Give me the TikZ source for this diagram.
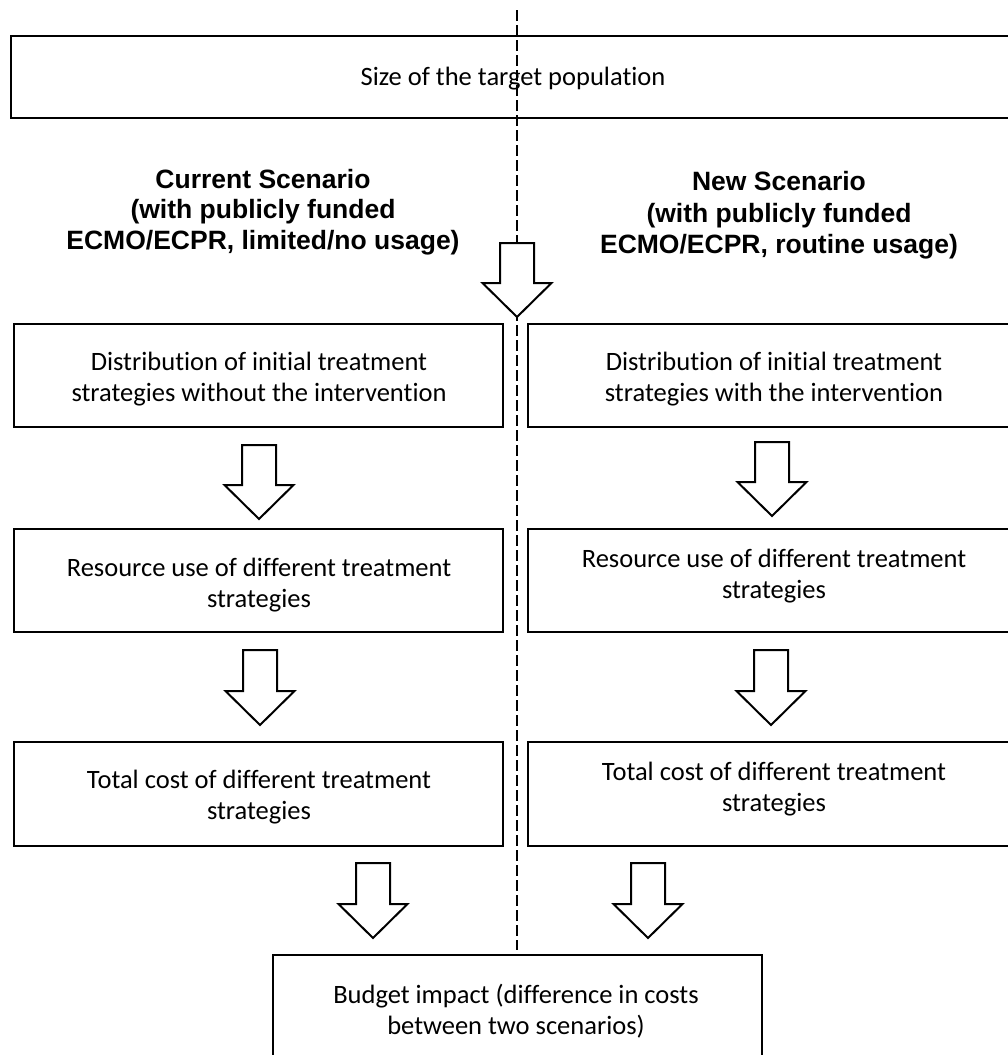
\documentclass[tikz,border=0pt]{standalone}
\usepackage{fontspec}
\setmainfont{Carlito}[Ligatures={NoCommon,NoRequired,NoContextual}]
\newfontfamily\headfont{Liberation Sans}
\begin{document}
\begin{tikzpicture}[x=1pt,y=-1pt,
  box/.style={draw=black, line width=2.2pt, rectangle, inner sep=0pt, fill=none},
  txt/.style={align=center, inner sep=0pt, font=\fontsize{26.5}{31.5}\selectfont},
  head/.style={align=center, inner sep=0pt, font=\headfont\bfseries\fontsize{26.5}{30.5}\selectfont},
  barrow/.style={draw=black, line width=2pt, fill=white, line join=miter},
  divider/.style={draw=black, line width=1.3pt, dash pattern=on 11pt off 4pt}
]
\useasboundingbox (0,0) rectangle (1008,1055);
\clip (0,0) rectangle (1008,1055);
\newcommand\blockarrow[3]{%
  \draw[barrow] (#1-17,#2) -- (#1+17,#2) -- (#1+17,#3-34) -- (#1+34.5,#3-34)
    -- (#1,#3) -- (#1-34.5,#3-34) -- (#1-17,#3-34) -- cycle;}
% boxes
\node[box, minimum width=1004, minimum height=82] (pop) at (513,77) {};
\node[box, minimum width=489, minimum height=103] (distL) at (258.5,375.5) {};
\node[box, minimum width=492, minimum height=103] (distR) at (774,375.5) {};
\node[box, minimum width=489, minimum height=103] (resL) at (258.5,580.5) {};
\node[box, minimum width=492, minimum height=103] (resR) at (774,580.5) {};
\node[box, minimum width=489, minimum height=104] (costL) at (258.5,794) {};
\node[box, minimum width=492, minimum height=104] (costR) at (774,794) {};
\node[box, minimum width=489, minimum height=130] (budget) at (517.5,1020) {};
% dashed divider
\coordinate (dtop) at (517,10);
\coordinate (dbot) at (517,950);
\draw[divider] (dtop) -- (dbot);
% texts
\node[txt] (tpop) at (513,79) {Size of the target population};
\node[head] (hcur) at (263,212) {Current Scenario\\(with publicly funded\\ECMO/ECPR, limited/no usage)};
\node[head, font=\headfont\bfseries\fontsize{26.5}{31.5}\selectfont] (hnew) at (779,215.5) {New Scenario\\(with publicly funded\\ECMO/ECPR, routine usage)};
\node[txt] (tdistL) at (259,379) {Distribution of initial treatment\\strategies without the intervention};
\node[txt] (tdistR) at (774,379) {Distribution of initial treatment\\strategies with the intervention};
\node[txt] (tresL) at (259,585) {Resource use of different treatment\\strategies};
\node[txt] (tresR) at (774,576) {Resource use of different treatment\\strategies};
\node[txt] (tcostL) at (259,797) {Total cost of different treatment\\strategies};
\node[txt] (tcostR) at (774,789) {Total cost of different treatment\\strategies};
\node[txt] (tbud) at (516,1011) {Budget impact (difference in costs\\between two scenarios)};
% block arrows
\blockarrow{517}{243}{317}
\blockarrow{259}{445}{519}
\blockarrow{772}{442}{516}
\blockarrow{260}{650}{725}
\blockarrow{771}{650}{725}
\blockarrow{373}{863}{938}
\blockarrow{648}{863}{938}
\end{tikzpicture}
\end{document}
